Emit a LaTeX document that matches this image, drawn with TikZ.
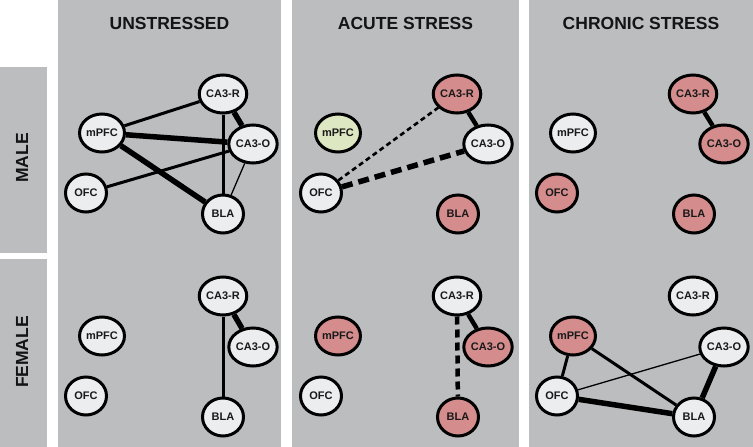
\documentclass[tikz,border=0pt]{standalone}
\usepackage{fontspec}
\setmainfont{Liberation Sans}
\usetikzlibrary{shapes.geometric}
\definecolor{panelgrey}{HTML}{BCBDBF}
\definecolor{nodegrey}{HTML}{ECEDEF}
\definecolor{nodered}{HTML}{D48C8C}
\definecolor{nodegreen}{HTML}{DDE7C1}
\tikzset{
	region/.style={ellipse, draw=black, line width=3pt, minimum width=41pt, minimum height=38pt, inner sep=0pt, font=\fontsize{11}{12}\selectfont\bfseries, text=black!90},
	calm/.style={region, fill=nodegrey},
	hot/.style={region, fill=nodered},
	low/.style={region, fill=nodegreen},
	linkthin/.style={line width=1.3pt},
	linkmid/.style={line width=3pt},
	linkthick/.style={line width=5.5pt},
	title/.style={font=\fontsize{17.5}{20}\selectfont\bfseries, text=black!92}
}

\begin{document}
\begin{tikzpicture}[x=1pt, y=-1pt]
		%%%%% START %%%%%
		\useasboundingbox (0, 0) rectangle (753, 447);
		
		% panels and row labels
		\fill[panelgrey] (0, 67) rectangle (47, 253);
		\fill[panelgrey] (0, 259) rectangle (47, 447);
		\fill[panelgrey] (58, 0) rectangle (281, 447);
		\fill[panelgrey] (292, 0) rectangle (519, 447);
		\fill[panelgrey] (529, 0) rectangle (753, 447);
		
		\node[title, rotate=90] (male) at (22, 158) {MALE};
		\node[title, rotate=90] (female) at (22, 352) {FEMALE};
		\node[title] (unstressed) at (169.5, 23.5) {UNSTRESSED};
		\node[title] (acute) at (405.5, 23.5) {ACUTE STRESS};
		\node[title] (chronic) at (641, 23.5) {CHRONIC STRESS};
		
		%%%%% UNSTRESSED %%%%%
		\node[calm] (um-car) at (223, 94) {CA3-R};
		\node[calm] (um-pfc) at (102, 133) {mPFC};
		\node[calm] (um-cao) at (253, 144) {CA3-O};
		\node[calm] (um-ofc) at (86, 193) {OFC};
		\node[calm] (um-bla) at (223, 214) {BLA};
		
		\draw[linkmid] (um-pfc) -- (um-car);
		\draw[linkthick] (um-car) -- (um-cao);
		\draw[linkthick] (um-pfc) -- (um-cao);
		\draw[linkthick] (um-pfc) -- (um-bla);
		\draw[linkmid] (um-ofc) -- (um-cao);
		\draw[linkmid] (um-car) -- (um-bla);
		\draw[linkthin] (um-cao) -- (um-bla);
		
		\node[calm] (uf-car) at (223, 296) {CA3-R};
		\node[calm] (uf-pfc) at (102, 336) {mPFC};
		\node[calm] (uf-cao) at (253, 347) {CA3-O};
		\node[calm] (uf-ofc) at (86, 396) {OFC};
		\node[calm] (uf-bla) at (223, 417) {BLA};
		
		\draw[linkthick] (uf-car) -- (uf-cao);
		\draw[linkmid] (uf-car) -- (uf-bla);
		
		%%%%% ACUTE STRESS %%%%%
		\node[hot] (am-car) at (457, 94) {CA3-R};
		\node[low] (am-pfc) at (338, 133) {mPFC};
		\node[calm] (am-cao) at (488, 144) {CA3-O};
		\node[calm] (am-ofc) at (321, 193) {OFC};
		\node[hot] (am-bla) at (458, 214) {BLA};
		
		\draw[linkmid, line width=2.6pt, dash pattern=on 5pt off 3.5pt] (am-ofc) -- (am-car);
		\draw[linkthick, dash pattern=on 11pt off 6pt] (am-ofc) -- (am-cao);
		\draw[linkthick, line width=4.5pt] (am-car) -- (am-cao);
		
		\node[calm] (af-car) at (457, 296) {CA3-R};
		\node[hot] (af-pfc) at (338, 336) {mPFC};
		\node[hot] (af-cao) at (488, 347) {CA3-O};
		\node[calm] (af-ofc) at (321, 396) {OFC};
		\node[hot] (af-bla) at (458, 417) {BLA};
		
		\draw[linkthick, line width=4.5pt] (af-car) -- (af-cao);
		\draw[linkthick, line width=4.5pt, dash pattern=on 8pt off 5pt] (af-car) -- (af-bla);
		
		%%%%% CHRONIC STRESS %%%%%
		\node[hot] (cm-car) at (693, 94) {CA3-R};
		\node[calm] (cm-pfc) at (573, 133) {mPFC};
		\node[hot] (cm-cao) at (724, 144) {CA3-O};
		\node[hot] (cm-ofc) at (557, 193) {OFC};
		\node[hot] (cm-bla) at (694, 214) {BLA};
		
		\draw[linkthick, line width=4.5pt] (cm-car) -- (cm-cao);
		
		\node[calm] (cf-car) at (693, 296) {CA3-R};
		\node[hot] (cf-pfc) at (573, 336) {mPFC};
		\node[calm] (cf-cao) at (724, 347) {CA3-O};
		\node[calm] (cf-ofc) at (557, 396) {OFC};
		\node[calm] (cf-bla) at (694, 417) {BLA};
		
		\draw[linkmid] (cf-pfc) -- (cf-ofc);
		\draw[linkmid] (cf-pfc) -- (cf-bla);
		\draw[linkthin] (cf-ofc) -- (cf-cao);
		\draw[linkthick] (cf-ofc) -- (cf-bla);
		\draw[linkthick] (cf-cao) -- (cf-bla);
		
		%%%%% END %%%%%
	\end{tikzpicture}
\end{document}
